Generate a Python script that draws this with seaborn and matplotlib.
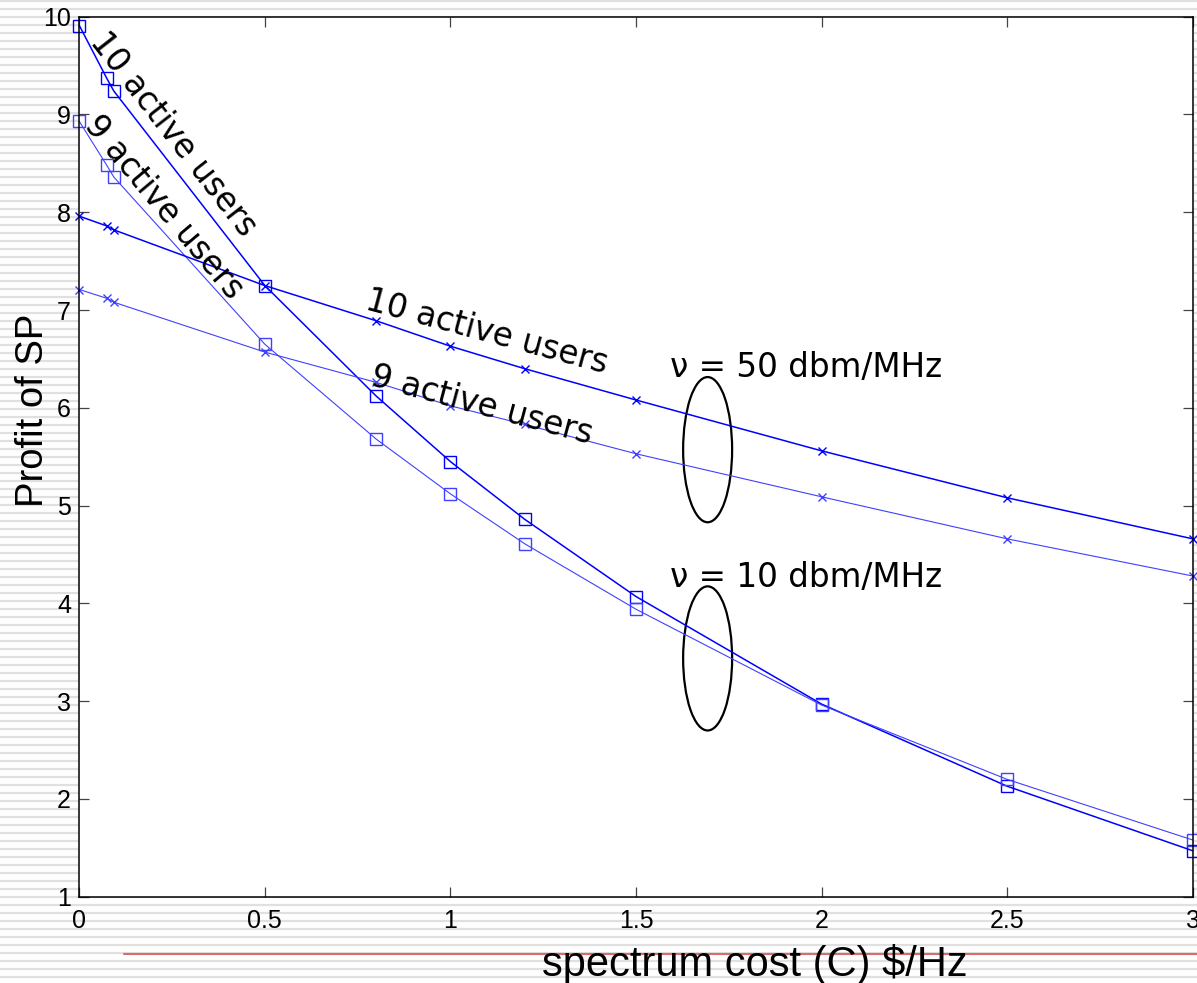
import numpy as np
import seaborn as sns
import matplotlib.pyplot as plt
from matplotlib.patches import Ellipse
from matplotlib.lines import Line2D

# spectrum cost values (x axis)
cost = [0, 0.074, 0.093, 0.5, 0.8, 1.0, 1.2, 1.5, 2.0, 2.5, 3.0]

# nu = 10 dbm/MHz (squares)
p10_users10 = [9.91, 9.37, 9.24, 7.25, 6.12, 5.45, 4.86, 4.07, 2.97, 2.13, 1.47]
p10_users9 = [8.93, 8.48, 8.36, 6.65, 5.68, 5.12, 4.61, 3.94, 2.96, 2.20, 1.58]

# nu = 50 dbm/MHz (crosses)
p50_users10 = [7.96, 7.86, 7.82, 7.25, 6.89, 6.63, 6.40, 6.08, 5.56, 5.08, 4.66]
p50_users9 = [7.21, 7.12, 7.08, 6.57, 6.26, 6.02, 5.83, 5.53, 5.09, 4.66, 4.28]

xticks = [0, 0.5, 1, 1.5, 2, 2.5, 3]
xticklabels = ["0", "0.5", "1", "1.5", "2", "2.5", "3"]
yticks = list(range(1, 11))

sns.set_style("ticks")
plt.rcParams['font.family'] = ['Liberation Sans', 'DejaVu Sans']
plt.rcParams['text.color'] = 'black'

W, H = 1197, 983
fig = plt.figure(figsize=(W / 100, H / 100), dpi=100, facecolor="white")

# striped slide background
for yp in np.arange(1, H, 8):
    fig.add_artist(Line2D([0, 1], [1 - yp / H] * 2, transform=fig.transFigure,
                          color="#e0e0e0", lw=1.6, zorder=-5))

ax = fig.add_axes([79.3 / W, 1 - 896.7 / H, (1192.7 - 79.3) / W, (896.7 - 16.7) / H])
ax.set_facecolor("white")

blue = "#0000ff"
light = "#4040ff"
series = [
    (p10_users10, "s", 8, blue, 1.1),
    (p10_users9, "s", 8, light, 0.8),
    (p50_users10, "x", 6, blue, 1.1),
    (p50_users9, "x", 6, light, 0.8),
]
for vals, mk, ms, col, lw in series:
    sns.lineplot(x=cost, y=vals, ax=ax, color=col, lw=lw, marker=mk, markersize=ms,
                 markerfacecolor="none", markeredgecolor=col, markeredgewidth=1.0,
                 sort=False, estimator=None, clip_on=False)

ax.set_xlim(0, 3)
ax.set_ylim(1, 10)
ax.set_xticks(xticks)
ax.set_xticklabels(xticklabels)
ax.set_yticks(yticks)
ax.tick_params(axis="both", direction="in", length=7, width=0.9, color="#444444",
               labelcolor="black", top=True, right=True)
ax.tick_params(axis="x", labelsize=18, pad=9)
ax.tick_params(axis="y", labelsize=18, pad=6)
for sp in ax.spines.values():
    sp.set_color("black")
    sp.set_linewidth(1.1)
ax.set_xlabel("")
ax.set_ylabel("")

# annotations
ann = dict(family="DejaVu Sans", fontsize=23.5, color="black", ha="center", va="center",
           rotation_mode="anchor")
ax.text(0.252, 8.80, "10 active users", rotation=-52, **ann)
ax.text(0.227, 8.05, "9 active users", rotation=-50, **ann)
ax.text(1.098, 6.77, "10 active users", rotation=-15, **ann)
ax.text(1.085, 6.03, "9 active users", rotation=-15, **ann)
ax.text(1.591, 6.41, "ν = 50 dbm/MHz", family="DejaVu Sans", fontsize=23.5,
        color="black", ha="left", va="center")
ax.text(1.591, 4.26, "ν = 10 dbm/MHz", family="DejaVu Sans", fontsize=23.5,
        color="black", ha="left", va="center")

ax.add_patch(Ellipse((1.693, 5.572), 0.132, 1.485, fill=False, ec="black", lw=1.6))
ax.add_patch(Ellipse((1.693, 3.437), 0.132, 1.474, fill=False, ec="black", lw=1.6))

# axis titles placed like the slide
fig.add_artist(Line2D([124 / W, 1], [1 - 954 / H] * 2, transform=fig.transFigure,
                      color="#d96b6b", lw=1.5, zorder=1))
fig.text(755 / W, 1 - 976 / H, "spectrum cost (C) $/Hz", fontsize=30, ha="center",
         va="baseline", color="black", zorder=3)
fig.text(33 / W, 1 - 410 / H, "Profit of SP", fontsize=27.5, rotation=90, ha="center",
         va="center", color="black", zorder=3)

fig.savefig("out.png", dpi=100, facecolor="white")
